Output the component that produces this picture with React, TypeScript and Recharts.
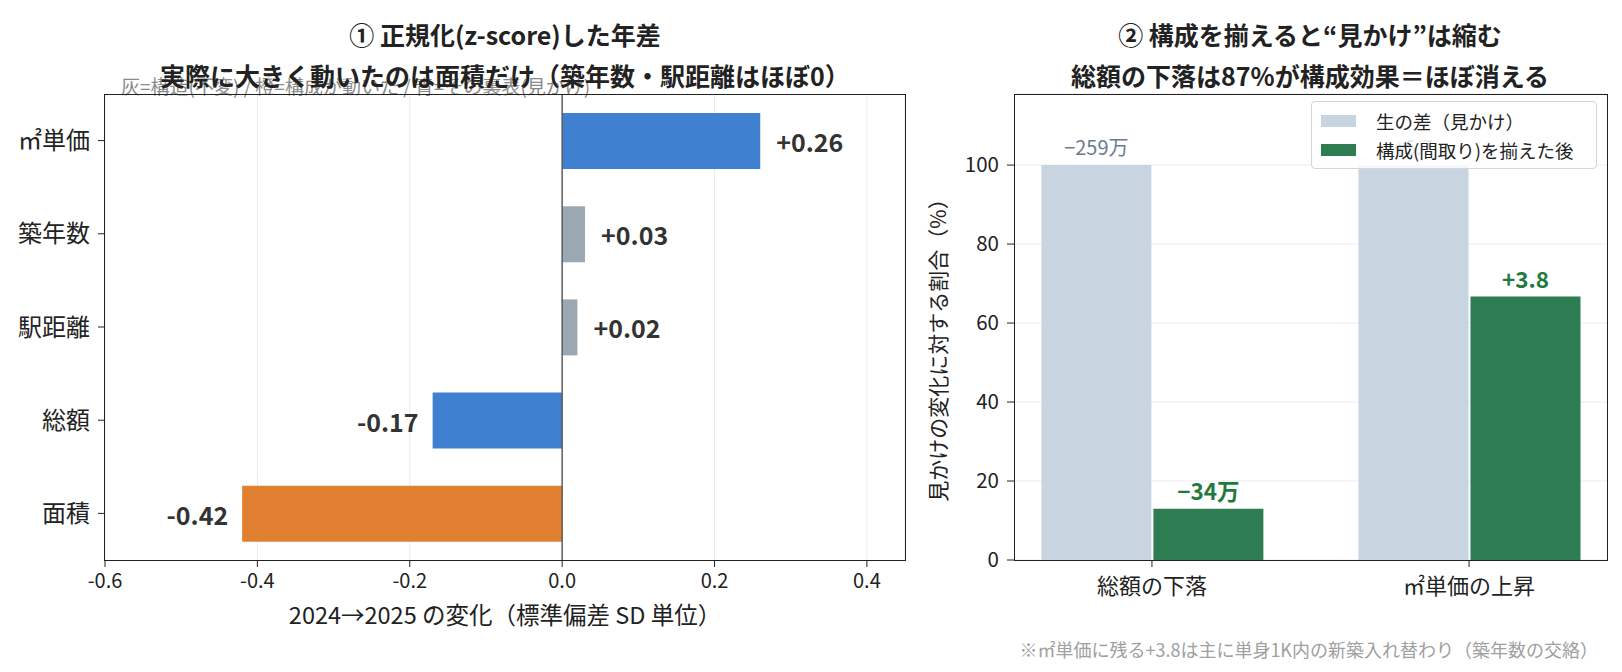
import React from "react";
import { BarChart, Bar, XAxis, YAxis, CartesianGrid, ReferenceLine, Cell, LabelList, Legend } from "recharts";

const FONT = '"Noto Sans CJK JP", "Noto Sans", sans-serif';

// ① z-score diffs
const zCategories = ["㎡単価", "築年数", "駅距離", "総額", "面積"];
const zValues = [0.26, 0.03, 0.02, -0.17, -0.42];
const zColors = ["#3f80d0", "#9ca7b4", "#9ca7b4", "#3f80d0", "#e08030"];
const zTicks = [-0.6, -0.4, -0.2, 0, 0.2, 0.4];

// ② composition-adjusted share
const gapCategories = ["総額の下落", "㎡単価の上昇"];
const seriesNames = ["生の差（見かけ）", "構成(間取り)を揃えた後"];
const rawShare = [100, 100];
const adjShare = [13, 66.7];
const rawLabels = ["−259万", "+5.7"];
const adjLabels = ["−34万", "+3.8"];
const shareTicks = [0, 20, 40, 60, 80, 100];

const zData = zCategories.map((name, i) => ({ name, value: zValues[i] }));
const gapData = gapCategories.map((name, i) => ({
  x: i, name, raw: rawShare[i], adj: adjShare[i], rawLabel: rawLabels[i], adjLabel: adjLabels[i],
}));

function T({ x, y, size, weight = 400, color = "#222", anchor = "center", children }: any) {
  const tx = anchor === "center" ? "-50%" : anchor === "end" ? "-100%" : "0";
  return (
    <div style={{
      position: "absolute", left: x, top: y, transform: `translate(${tx}, -50%)`,
      fontSize: size, fontWeight: weight, color, whiteSpace: "nowrap", fontFamily: FONT, lineHeight: 1.2,
    }}>{children}</div>
  );
}

const zLabel = (props: any) => {
  const { x, y, width, height, value } = props;
  const left = Math.min(x, x + width);
  const right = Math.max(x, x + width);
  const pos = value >= 0;
  return (
    <text x={pos ? right + 16 : left - 14} y={y + height / 2} textAnchor={pos ? "start" : "end"}
      dominantBaseline="central" fontSize={25} fontWeight={700} fill="#333" fontFamily={FONT}>
      {(pos ? "+" : "") + value.toFixed(2)}
    </text>
  );
};

const rawLabel = (props: any) => {
  const { x, y, width, value } = props;
  return (
    <text x={x + width / 2} y={y - 19} textAnchor="middle" dominantBaseline="central"
      fontSize={20} fill="#6b7b90" fontFamily={FONT}>{value}</text>
  );
};

const adjLabel = (props: any) => {
  const { x, y, width, value } = props;
  return (
    <text x={x + width / 2} y={y - 19} textAnchor="middle" dominantBaseline="central"
      fontSize={22.5} fontWeight={700} fill="#1f7a3d" fontFamily={FONT}>{value}</text>
  );
};

const legendContent = (props: any) => {
  const items = [...(props.payload || [])].sort(
    (a: any, b: any) => seriesNames.indexOf(a.value) - seriesNames.indexOf(b.value));
  return (
    <div style={{
      border: "1px solid #d6d6d6", borderRadius: 4, background: "rgba(255,255,255,0.82)",
      padding: "4px 9px", width: 286, height: 68, boxSizing: "border-box", fontFamily: FONT,
    }}>
      {items.map((p: any) => (
        <div key={p.value} style={{ display: "flex", alignItems: "center", height: 29.5, fontSize: 18.5, color: "#222", whiteSpace: "nowrap" }}>
          <span style={{ width: 35, height: 12, background: p.color, marginRight: 20, display: "inline-block", flex: "none" }} />
          {p.value}
        </div>
      ))}
    </div>
  );
};

const frame = (left: number, top: number, width: number, height: number) => (
  <div style={{
    position: "absolute", left, top, width, height, border: "1.3px solid #222",
    boxSizing: "border-box", pointerEvents: "none",
  }} />
);

export default function App() {
  return (
    <div style={{ position: "absolute", left: 0, top: 0, width: 1622, height: 672, background: "#fff", fontFamily: FONT, overflow: "hidden" }}>
      <div style={{ position: "absolute", left: 0, top: 0 }}>
        <BarChart layout="vertical" width={930} height={672} data={zData}
          margin={{ top: 94, right: 25, bottom: 62, left: 0 }}>
          <CartesianGrid horizontal={false} stroke="#ebebeb" strokeWidth={1} />
          <XAxis type="number" domain={[-0.6, 0.45]} ticks={zTicks} allowDataOverflow
            tickFormatter={(v: number) => v.toFixed(1)} axisLine={false}
            tickLine={{ stroke: "#222" }} tickSize={7} tickMargin={7} height={50}
            tick={{ fontSize: 20, fill: "#222", fontFamily: FONT }} />
          <YAxis type="category" dataKey="name" width={105} axisLine={false}
            tickLine={{ stroke: "#222" }} tickSize={7} tickMargin={8}
            tick={{ fontSize: 24, fill: "#222", fontFamily: FONT }} />
          <ReferenceLine x={0} stroke="#555" strokeWidth={1.4} />
          <Bar dataKey="value" barSize={56} isAnimationActive={false}>
            {zData.map((d, i) => <Cell key={d.name} fill={zColors[i]} />)}
            <LabelList dataKey="value" content={zLabel} />
          </Bar>
        </BarChart>
      </div>
      <T x={121} y={85.5} size={19} color="#8a8a8a" anchor="start">灰=構造(不変) / 橙=構成が動いた / 青=その裏表(見かけ)</T>
      {frame(104, 93.5, 801.5, 467.5)}

      <div style={{ position: "absolute", left: 930, top: 0 }}>
        <BarChart width={692} height={672} data={gapData} barGap={2}
          margin={{ top: 94, right: 15, bottom: 62, left: 0 }}>
          <CartesianGrid vertical={false} stroke="#ebebeb" strokeWidth={1} />
          <XAxis type="number" dataKey="x" domain={[-0.435, 1.435]} ticks={[0, 1]} allowDataOverflow
            tickFormatter={(v: number) => gapCategories[v] ?? ""} axisLine={false}
            tickLine={{ stroke: "#222" }} tickSize={7} tickMargin={11} height={50}
            tick={{ fontSize: 22, fill: "#222", fontFamily: FONT }} />
          <YAxis domain={[0, 118]} ticks={shareTicks} allowDataOverflow width={84} axisLine={false}
            tickLine={{ stroke: "#222" }} tickSize={7} tickMargin={8}
            tick={{ fontSize: 20.5, fill: "#222", fontFamily: FONT }} />
          <Bar dataKey="raw" name={seriesNames[0]} fill="#c9d4e1" barSize={110} isAnimationActive={false}>
            <LabelList dataKey="rawLabel" content={rawLabel} />
          </Bar>
          <Bar dataKey="adj" name={seriesNames[1]} fill="#2e7d52" barSize={110} isAnimationActive={false}>
            <LabelList dataKey="adjLabel" content={adjLabel} />
          </Bar>
          <Legend content={legendContent} layout="horizontal" verticalAlign="middle" align="center"
            wrapperStyle={{ position: "absolute", top: 101, left: 381, width: 286, height: 68 }} />
        </BarChart>
      </div>
      {frame(1013.5, 93.5, 594, 467.5)}

      <T x={505} y={34} size={25} weight={700}>① 正規化(z-score)した年差</T>
      <T x={505} y={74.5} size={25} weight={700}>実際に大きく動いたのは面積だけ（築年数・駅距離はほぼ0）</T>
      <T x={505} y={614} size={23.5}>2024→2025 の変化（標準偏差 SD 単位）</T>

      <T x={1310} y={34} size={25} weight={700}>② 構成を揃えると“見かけ”は縮む</T>
      <T x={1310} y={74.5} size={25} weight={700}>総額の下落は87%が構成効果＝ほぼ消える</T>
      <div style={{
        position: "absolute", left: 937, top: 345, transform: "translate(-50%, -50%) rotate(-90deg)",
        fontSize: 21, color: "#222", whiteSpace: "nowrap", fontFamily: FONT,
      }}>見かけの変化に対する割合（%）</div>
      <T x={1598} y={649.5} size={18} color="#a0a0a0" anchor="end">※㎡単価に残る+3.8は主に単身1K内の新築入れ替わり（築年数の交絡）</T>
    </div>
  );
}
